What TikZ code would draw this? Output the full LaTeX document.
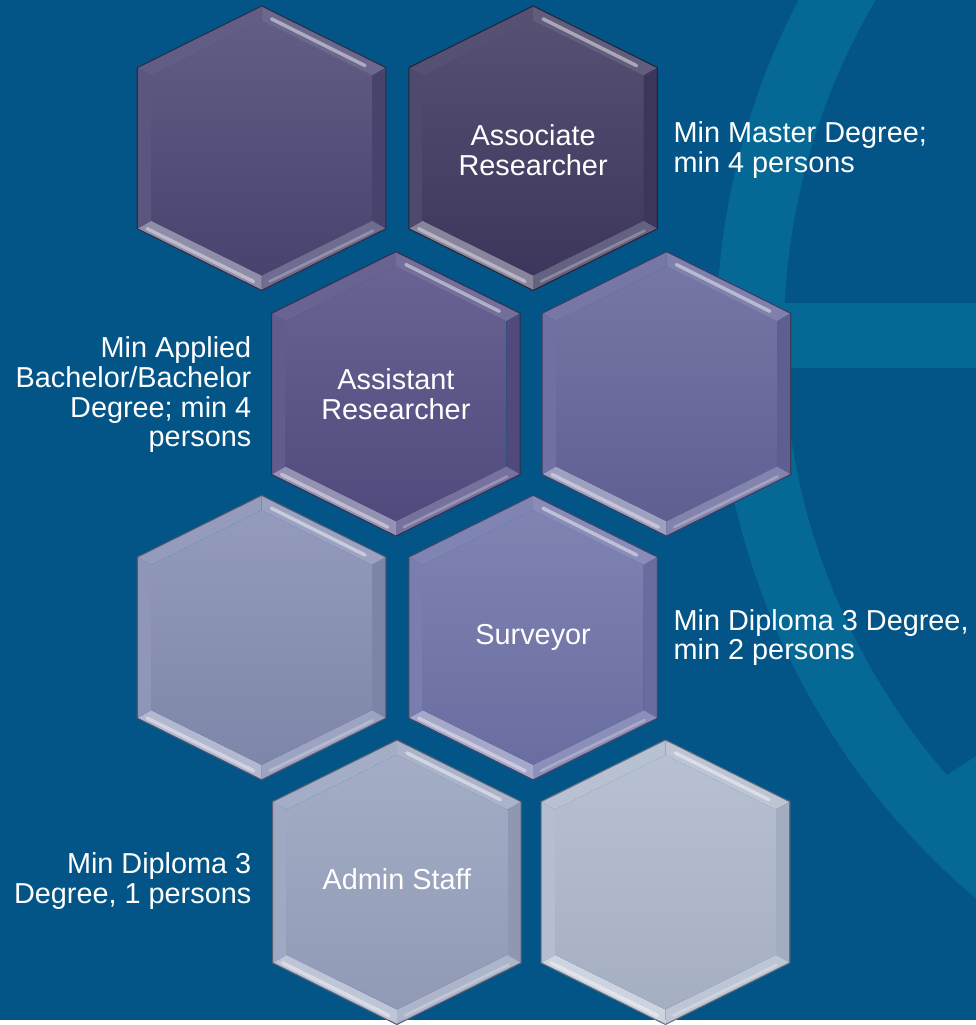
\documentclass[tikz,border=0pt]{standalone}
\usepackage{fontspec}
\setmainfont{Liberation Sans}
\definecolor{slidebg}{HTML}{035587}
\definecolor{ringblue}{HTML}{056895}
\definecolor{tierA}{HTML}{4C4774}
\definecolor{tierB}{HTML}{3F3960}
\definecolor{tierC}{HTML}{544E84}
\definecolor{tierD}{HTML}{64649A}
\definecolor{tierE}{HTML}{858DB2}
\definecolor{tierF}{HTML}{6F73A8}
\definecolor{tierG}{HTML}{98A2BE}
\definecolor{tierH}{HTML}{AEB8CC}
% one bevelled hexagon: #1,#2 centre, #3 colour
\newcommand{\hexcell}[3]{%
  \begin{scope}[shift={(#1,#2)}]
    \fill[#3!88!white] (-125,-81) -- (0,-143) -- (0,-128) -- (-111,-73) -- cycle;
    \fill[#3!82!white] (0,-143) -- (125,-81) -- (111,-73) -- (0,-128) -- cycle;
    \fill[#3!94!black] (125,-81) -- (125,81) -- (111,73) -- (111,-73) -- cycle;
    \fill[#3!80!white] (125,81) -- (0,143) -- (0,128) -- (111,73) -- cycle;
    \fill[#3!62!white] (0,143) -- (-125,81) -- (-111,73) -- (0,128) -- cycle;
    \fill[#3!92!white] (-125,81) -- (-125,-81) -- (-111,-73) -- (-111,73) -- cycle;
    \shade[top color=#3!88!white, bottom color=#3!95!black] (0,-128) -- (111,-73) -- (111,73) -- (0,128) -- (-111,73) -- (-111,-73) -- cycle;
    \draw[white, opacity=.45, line width=2pt, line cap=round] (10,-130) -- (104,-83);
    \draw[white, opacity=.4, line width=2pt, line cap=round] (-115,81) -- (-8,134);
    \draw[white, opacity=.25, line width=1.5pt, line cap=round] (8,134) -- (112,83);
    \draw[#3!60!black, line width=.6pt] (0,-143) -- (125,-81) -- (125,81) -- (0,143) -- (-125,81) -- (-125,-81) -- cycle;
  \end{scope}}
\tikzset{
  celltext/.style={text=white, font=\fontsize{16.5}{17}\selectfont, align=center, inner sep=0pt},
  noteright/.style={celltext, align=left, anchor=west},
  noteleft/.style={celltext, align=right, anchor=east}
}
\begin{document}
\begin{tikzpicture}[x=0.02cm, y=-0.02cm]
% background with the ring
\fill[slidebg] (0,0) rectangle (981,1025);
\begin{scope}
\clip (0,0) rectangle (981,1025);
\fill[ringblue] (1458,340) circle[radius=738];
\begin{scope}
\clip (600,-10) -- (1000,-10) -- (1000,748) -- (600,1006) -- cycle;
\fill[slidebg] (1458,340) circle[radius=670];
\end{scope}
\fill[ringblue] (788,305) rectangle (981,370);
\end{scope}
% hexagons
\foreach \hx/\hy/\col in {263/149/tierA, 536/149/tierB, 398/396/tierC, 670/396/tierD,
                          263/641/tierE, 536/641/tierF, 399/887/tierG, 669/887/tierH}
  {\hexcell{\hx}{\hy}{\col}}
% texts
\node[celltext] (assoc) at (536,151) {Associate\\Researcher};
\node[celltext] (assist) at (398,396) {Assistant\\Researcher};
\node[celltext] (surv) at (536,641) {Surveyor};
\node[celltext] (admin) at (399,884) {Admin Staff};
\node[noteright] (assocreq) at (677,151) {Min Master Degree;\\min 4 persons};
\node[noteleft] (assistreq) at (253,397) {Min Applied\\Bachelor/Bachelor\\Degree; min 4\\persons};
\node[noteright] (survreq) at (677,641) {Min Diploma 3 Degree,\\min 2 persons};
\node[noteleft] (adminreq) at (253,886) {Min Diploma 3\\Degree, 1 persons};
\end{tikzpicture}
\end{document}
